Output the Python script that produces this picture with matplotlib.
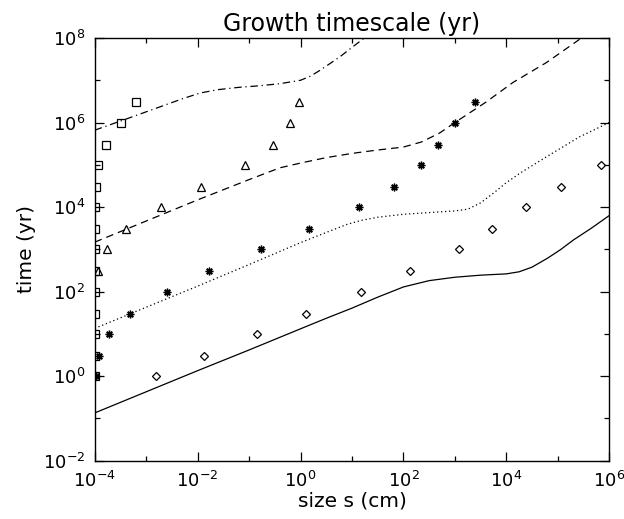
import numpy as np
import matplotlib
matplotlib.use("Agg")
import matplotlib.pyplot as plt
from matplotlib.ticker import LogFormatterMathtext, NullFormatter

# Model curves: size s (cm) vs growth time (yr)
solid_s = [1e-4, 1e-3, 1e-2, 0.1, 1.0, 3.16, 10, 31.6, 100, 316, 1000, 3160,
           1e4, 1.78e4, 3.16e4, 6.3e4, 1.12e5, 2e5, 4.47e5, 1e6]
solid_t = [0.135, 0.427, 1.35, 4.17, 13.2, 23.4, 40.7, 74, 129, 182, 219, 245,
           263, 295, 380, 617, 977, 1660, 3160, 6310]

dotted_s = [1e-4, 1e-3, 1e-2, 0.1, 1.0, 3.16, 7.94, 15.8, 31.6, 100, 316, 1000,
            1780, 3160, 5620, 1e4, 2e4, 6.03e4, 2.63e5, 1e6]
dotted_t = [13.5, 42.7, 135, 437, 1445, 2510, 3890, 4900, 5750, 6760, 7410, 8130,
            8910, 1.26e4, 2.14e4, 3.8e4, 6.76e4, 1.55e5, 4.57e5, 1e6]

dashed_s = [1e-4, 1e-3, 1e-2, 0.1, 0.398, 1.0, 3.16, 10, 31.6, 100, 224, 501,
            1000, 3980, 1.35e4, 6.03e4, 2.88e5, 3.98e5]
dashed_t = [1480, 4680, 1.48e4, 4.47e4, 8.5e4, 1.1e5, 1.48e5, 1.86e5, 2.24e5,
            2.63e5, 3.47e5, 5.62e5, 1e6, 3.02e6, 8.9e6, 2.63e7, 1e8, 1.32e8]

dashdot_s = [1e-4, 3.63e-4, 1.58e-3, 5.0e-3, 1.12e-2, 2.5e-2, 6.3e-2, 0.158,
             0.398, 1.0, 1.58, 2.5, 5.9, 10, 17.4, 25]
dashdot_t = [6.6e5, 1.15e6, 2.19e6, 3.63e6, 5.0e6, 6.0e6, 6.8e6, 7.4e6,
             8.3e6, 1e7, 1.26e7, 1.78e7, 3.63e7, 6.0e7, 1e8, 1.4e8]

# Simulated points
diamond_t = [1, 3, 10, 30, 100, 300, 1e3, 3e3, 1e4, 3e4, 1e5]
diamond_s = [1.53e-3, 1.33e-2, 0.145, 1.28, 14.8, 136, 1175, 5190, 2.4e4, 1.15e5, 6.9e5]

star_t = [1, 3, 10, 30, 100, 300, 1e3, 3e3, 1e4, 3e4, 1e5, 3e5, 1e6, 3e6]
star_s = [1.06e-4, 1.21e-4, 1.9e-4, 4.85e-4, 2.5e-3, 1.69e-2, 0.168, 1.48,
          13.7, 66.4, 224, 475, 1000, 2455]

tri_t = [300, 1e3, 3e3, 1e4, 3e4, 1e5, 3e5, 1e6, 3e6]
tri_s = [1.17e-4, 1.76e-4, 4.06e-4, 1.92e-3, 1.16e-2, 8.3e-2, 0.296, 0.617, 0.946]

square_t = [1, 3, 10, 30, 100, 300, 1e3, 3e3, 1e4, 3e4, 1e5, 3e5, 1e6, 3e6]
square_s = [1.0e-4, 1.0e-4, 1.0e-4, 1.0e-4, 1.0e-4, 1.0e-4, 1.0e-4,
            1.0e-4, 1.005e-4, 1.06e-4, 1.17e-4, 1.66e-4, 3.24e-4, 6.27e-4]

x_major = [1e-4, 1e-2, 1e0, 1e2, 1e4, 1e6]
x_minor = [1e-3, 1e-1, 1e1, 1e3, 1e5]
y_major = [1e-2, 1e0, 1e2, 1e4, 1e6, 1e8]
y_minor = [1e-1, 1e1, 1e3, 1e5, 1e7]

fig = plt.figure(figsize=(6.24, 5.19), dpi=100)
ax = fig.add_axes([0.1518, 0.1123, 0.8246, 0.8145])

lw = 0.9
ax.plot(solid_s, solid_t, color="black", lw=lw, linestyle="-")
ax.plot(dotted_s, dotted_t, color="black", lw=lw, linestyle=(0, (1, 2.2)))
ax.plot(dashed_s, dashed_t, color="black", lw=lw, linestyle=(0, (6, 4)))
ax.plot(dashdot_s, dashdot_t, color="black", lw=lw, linestyle=(0, (6, 3, 1, 3)))

ax.plot(diamond_s, diamond_t, linestyle="none", marker="D", ms=4.2,
        mfc="none", mec="black", mew=0.9)
ax.plot(star_s, star_t, linestyle="none", marker=(8, 2, 0), ms=5.5,
        mfc="black", mec="black", mew=1.0)
ax.plot(tri_s, tri_t, linestyle="none", marker="^", ms=6,
        mfc="none", mec="black", mew=0.9)
ax.plot(square_s, square_t, linestyle="none", marker="s", ms=5.5,
        mfc="none", mec="black", mew=0.9)

ax.set_xscale("log")
ax.set_yscale("log")
ax.set_xlim(1e-4, 1e6)
ax.set_ylim(1e-2, 1e8)
ax.set_xticks(x_major)
ax.set_xticks(x_minor, minor=True)
ax.set_yticks(y_major)
ax.set_yticks(y_minor, minor=True)
ax.xaxis.set_major_formatter(LogFormatterMathtext())
ax.yaxis.set_major_formatter(LogFormatterMathtext())
ax.xaxis.set_minor_formatter(NullFormatter())
ax.yaxis.set_minor_formatter(NullFormatter())

ax.tick_params(which="both", direction="in", top=True, right=True, width=0.9,
               labelsize=13, color="black")
ax.tick_params(which="major", length=6.5, pad=7)
ax.tick_params(which="minor", length=3.6)
for sp in ax.spines.values():
    sp.set_linewidth(1.0)

ax.set_title("Growth timescale (yr)", fontsize=17, pad=5)
ax.set_xlabel("size s (cm)", fontsize=14.5, labelpad=1)
ax.set_ylabel("time (yr)", fontsize=14.5, labelpad=5)

fig.savefig("out.png", dpi=100)
